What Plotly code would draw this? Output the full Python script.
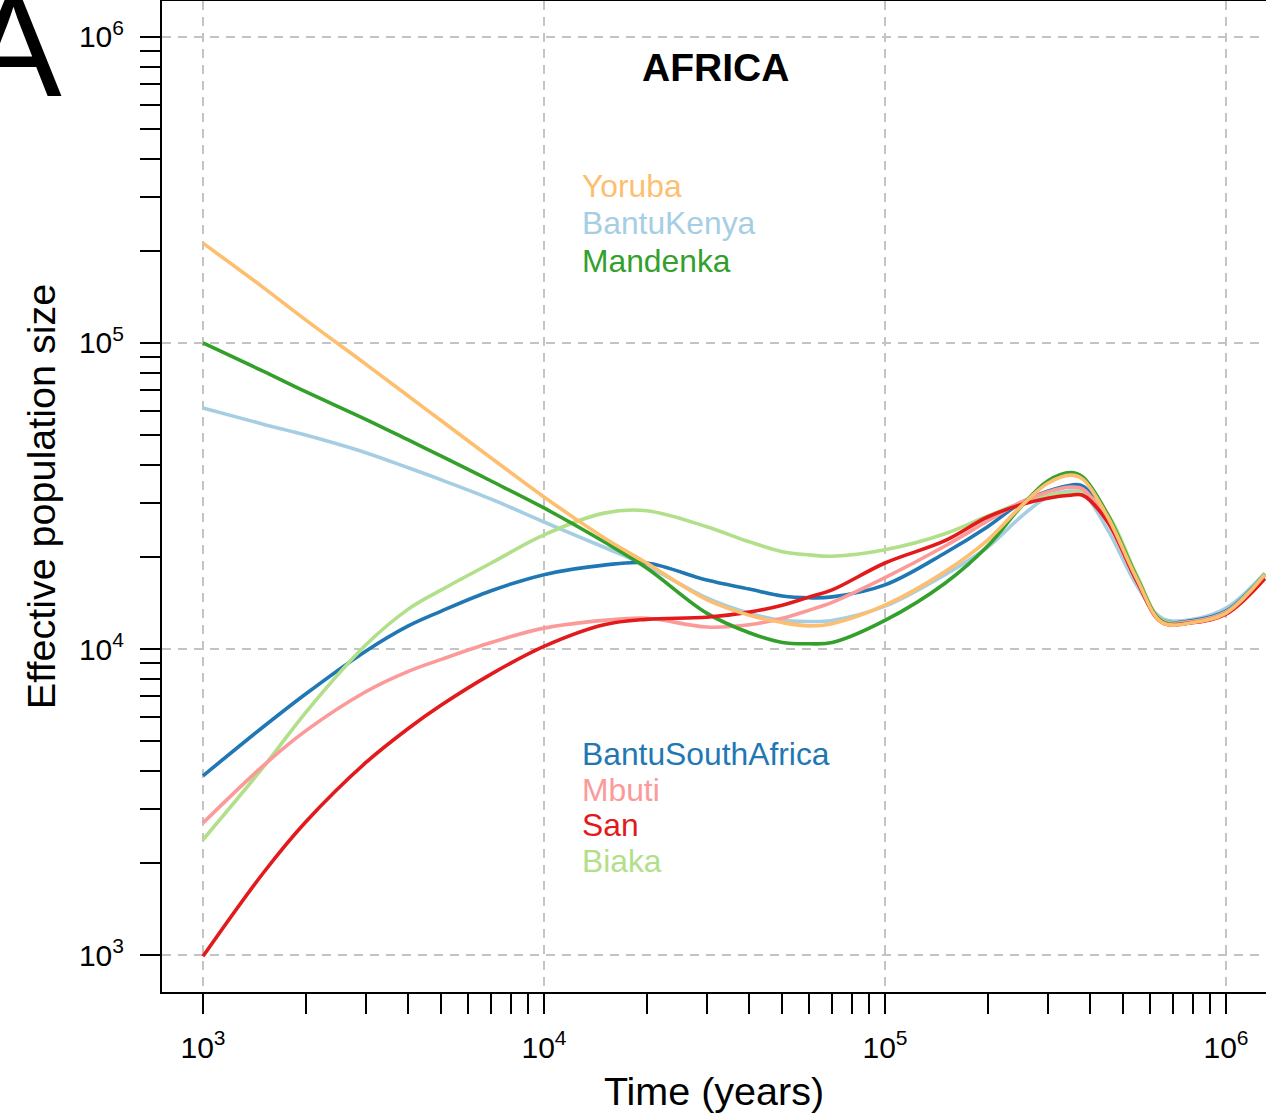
import plotly.graph_objects as go

# ---------------- data ----------------
years = [1000, 1500, 2000, 3000, 4000, 5000, 7000, 10000, 15000, 20000, 30000,
         40000, 50000, 60000, 70000, 100000, 150000, 200000, 250000, 300000,
         350000, 380000, 450000, 550000, 650000, 800000, 1000000, 1300000]

yoruba = [212000, 152000, 119000, 85300, 67100, 55700, 42100, 31400, 23100, 19100, 14500,
          12900, 12200, 11900, 12100, 13900, 17900, 22700, 29200, 34800,
          37000, 35900, 27000, 16800, 12200, 12200, 13100, 17500]
bantu_kenya = [61300, 54300, 50000, 43800, 39100, 35700, 30900, 26000, 21500, 18700, 14700,
               13100, 12400, 12300, 12400, 13800, 17500, 21500, 27000, 31400,
               32800, 32400, 24500, 16000, 12600, 12500, 13600, 17700]
mandenka = [100000, 80900, 69300, 56300, 48200, 42700, 35400, 28900, 22400, 18400, 13100,
            11300, 10500, 10400, 10500, 12400, 16400, 21700, 29100, 35400,
            37700, 36500, 27500, 17000, 12300, 12200, 13100, 17500]
bantu_sa = [3850, 5560, 7130, 9840, 11900, 13300, 15500, 17500, 18800, 19100, 16800,
            15700, 14900, 14700, 14800, 16200, 20600, 25100, 30000, 32800,
            34300, 34100, 26500, 16600, 12400, 12400, 13300, 17600]
mbuti = [2700, 4150, 5400, 7250, 8450, 9250, 10500, 11700, 12400, 12600, 11800,
         12000, 12600, 13400, 14200, 17100, 21700, 26200, 30200, 32600,
         33800, 33300, 26000, 16500, 12300, 12300, 13200, 17400]
san = [990, 1850, 2720, 4250, 5500, 6560, 8280, 10200, 12000, 12500, 12700,
       13200, 13900, 14800, 15600, 19100, 22600, 27000, 29600, 31100,
       31800, 31800, 26000, 16500, 12200, 12200, 13000, 17000]
biaka = [2380, 4100, 6200, 10300, 13500, 15600, 19100, 23600, 27800, 28300, 25100,
         22400, 20800, 20300, 20100, 21100, 23800, 27200, 30000, 31800,
         32400, 32400, 27500, 17200, 12400, 12300, 13200, 17600]

series_names = ["BantuKenya", "BantuSouthAfrica", "Biaka", "Mbuti", "Mandenka", "San", "Yoruba"]
series_values = [bantu_kenya, bantu_sa, biaka, mbuti, mandenka, san, yoruba]
colors = {"Yoruba": "#FDBF6F", "BantuKenya": "#A6CEE3", "Mandenka": "#33A02C",
          "BantuSouthAfrica": "#1F78B4", "Mbuti": "#FB9A99", "San": "#E31A1C",
          "Biaka": "#B2DF8A"}

legend_top = ["Yoruba", "BantuKenya", "Mandenka"]
legend_bottom = ["BantuSouthAfrica", "Mbuti", "San", "Biaka"]

major_vals = [1e3, 1e4, 1e5, 1e6]
major_text = ["10<sup>3</sup>", "10<sup>4</sup>", "10<sup>5</sup>", "10<sup>6</sup>"]
minor_vals = [m * 10 ** e for e in range(3, 7) for m in range(2, 10)]

# ---------------- layout geometry ----------------
W, H = 1266, 1116
L, R, T, B = 162, 0, 1, 124
pw, ph = W - L - R, H - T - B


def px(x):
    return (x - L) / pw


def py(y):
    return (H - B - y) / ph


FONT = "Liberation Sans, Arial, Helvetica, sans-serif"

fig = go.Figure()
for name, vals in zip(series_names, series_values):
    fig.add_trace(go.Scatter(x=years, y=vals, mode="lines", name=name,
                             line=dict(color=colors[name], width=3.6, shape="spline", smoothing=1.0),
                             showlegend=False))

axis_common = dict(
    type="log", showline=True, linecolor="black", linewidth=2, automargin=False,
    ticks="outside", ticklen=20, tickwidth=2, tickcolor="black",
    tickmode="array", tickvals=major_vals, ticktext=major_text,
    tickfont=dict(family=FONT, size=30, color="black"),
    showgrid=True, gridcolor="#c4c4c4", gridwidth=2, griddash="9px,7px",
    zeroline=False,
    minor=dict(tickmode="array", tickvals=minor_vals, ticks="outside", ticklen=20,
               tickwidth=2, tickcolor="black", showgrid=False),
)

fig.update_xaxes(**axis_common, range=[2.8798, 6.1173], mirror=True,
                 ticklabelstandoff=8,
                 title=dict(text="Time (years)", font=dict(family=FONT, size=39.5, color="black"),
                            standoff=14))
fig.update_yaxes(**axis_common, range=[2.8791, 6.1176],
                 ticklabelstandoff=10,
                 title=dict(text="Effective population size",
                            font=dict(family=FONT, size=39.5, color="black"), standoff=11))

ann = []
ann.append(dict(x=px(715), y=py(67), xref="paper", yref="paper", text="<b>AFRICA</b>",
                showarrow=False, font=dict(family=FONT, size=39, color="black"),
                xanchor="center", yanchor="middle"))
ann.append(dict(x=px(64), y=py(46), xref="paper", yref="paper", text="A",
                showarrow=False, font=dict(family=FONT, size=145, color="black"),
                xanchor="right", yanchor="middle"))
for i, name in enumerate(legend_top):
    ann.append(dict(x=px(580), y=py(186 + i * 37.5), xref="paper", yref="paper", text=name,
                    showarrow=False, font=dict(family=FONT, size=31.8, color=colors[name]),
                    xanchor="left", yanchor="middle"))
for i, name in enumerate(legend_bottom):
    ann.append(dict(x=px(580), y=py(754 + i * 35.5), xref="paper", yref="paper", text=name,
                    showarrow=False, font=dict(family=FONT, size=31.8, color=colors[name]),
                    xanchor="left", yanchor="middle"))

fig.update_layout(width=W, height=H, margin=dict(l=L, r=R, t=T, b=B, pad=0, autoexpand=False),
                  paper_bgcolor="white", plot_bgcolor="white", annotations=ann,
                  font=dict(family=FONT, color="black"))

fig.write_html("out.html", config={"displayModeBar": False},
               post_script="document.body.style.margin='0px';document.body.style.overflow='hidden';")
